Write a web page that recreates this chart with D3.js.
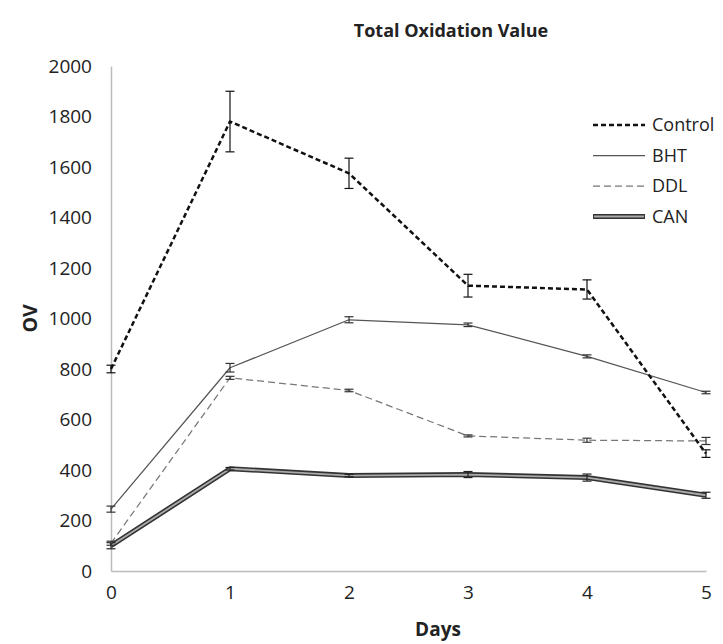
<!DOCTYPE html>
<html>
<head>
<meta charset="utf-8">
<script src="https://cdn.jsdelivr.net/npm/d3@7"></script>
<style>
  body { margin: 0; background: #fff; }
  text { font-family: "Open Sans", sans-serif; fill: #222; }
</style>
</head>
<body>
<div id="chart-area"></div>
<script>
// data
var days = [0, 1, 2, 3, 4, 5]
var yTicks = [0, 200, 400, 600, 800, 1000, 1200, 1400, 1600, 1800, 2000]

var controlVals = [800, 1780, 1575, 1130, 1115, 465]
var controlErr  = [15, 120, 60, 45, 38, 15]
var bhtVals = [245, 805, 995, 975, 850, 707]
var bhtErr  = [12, 17, 12, 7, 6, 5]
var ddlVals = [110, 765, 715, 535, 518, 515]
var ddlErr  = [8, 6, 5, 4, 8, 14]
var canVals = [100, 405, 378, 382, 370, 300]
var canErr  = [12, 5, 5, 12, 14, 12]

var margin = { left: 111, right: 17, top: 66, bottom: 73 }
var width = 723 - margin.left - margin.right,
    height = 644 - margin.top - margin.bottom

var svg = d3.select("#chart-area").append("svg")
    .attr("width", 723)
    .attr("height", 644)

var g = svg.append("g")
    .attr("transform", "translate(" + margin.left + "," + margin.top + ")")

var x = d3.scaleLinear().domain([0, 5]).range([0, width])
var y = d3.scaleLinear().domain([0, 2000]).range([height, 0])

// axes
var xAxisCall = d3.axisBottom(x).tickValues(days).tickFormat(d3.format("d"))
  .tickSize(0).tickPadding(11)
var yAxisCall = d3.axisLeft(y).tickValues(yTicks).tickFormat(d3.format("d"))
  .tickSize(0).tickPadding(19)

var xAxisGroup = g.append("g")
  .attr("transform", "translate(0," + height + ")")
  .call(xAxisCall)
var yAxisGroup = g.append("g").call(yAxisCall)

g.selectAll(".domain").attr("stroke", "#bbb").attr("stroke-width", 1.5)
g.selectAll(".tick text")
  .attr("font-size", "19px")
  .attr("font-family", "Open Sans, sans-serif")
  .attr("fill", "#222")
xAxisGroup.selectAll(".tick text").attr("dy", "0.9em")

// labels
svg.append("text")
  .attr("x", 451).attr("y", 37)
  .attr("text-anchor", "middle")
  .attr("font-size", "18px")
  .attr("font-weight", "bold")
  .text("Total Oxidation Value")

svg.append("text")
  .attr("x", 438).attr("y", 636)
  .attr("text-anchor", "middle")
  .attr("font-size", "19px")
  .attr("font-weight", "bold")
  .text("Days")

svg.append("text")
  .attr("transform", "translate(37," + (margin.top + height / 2) + ") rotate(-90)")
  .attr("text-anchor", "middle")
  .attr("font-size", "19.5px")
  .attr("font-weight", "bold")
  .text("OV")

var series = [
  { name: "Control", vals: controlVals, err: controlErr, color: "#111", width: 2.5, dash: "5,3", errColor: "#111" },
  { name: "BHT", vals: bhtVals, err: bhtErr, color: "#555", width: 1.25, dash: null, errColor: "#333" },
  { name: "DDL", vals: ddlVals, err: ddlErr, color: "#777", width: 1.25, dash: "7,4", errColor: "#333" },
  { name: "CAN", vals: canVals, err: canErr, color: "#333", width: 5, dash: null, errColor: "#222", inner: "#aaa" }
]

var line = d3.line()
  .x(function(d, i) { return x(days[i]) })
  .y(function(d) { return y(d) })

// draw series (CAN first so others sit on top like the picture)
series.slice().reverse().forEach(function(s) {
  g.append("path")
    .datum(s.vals)
    .attr("fill", "none")
    .attr("stroke", s.color)
    .attr("stroke-width", s.width)
    .attr("stroke-dasharray", s.dash)
    .attr("stroke-linejoin", "round")
    .attr("d", line)
  if (s.inner) {
    g.append("path")
      .datum(s.vals)
      .attr("fill", "none")
      .attr("stroke", s.inner)
      .attr("stroke-width", 1.8)
      .attr("stroke-linejoin", "round")
      .attr("d", line)
  }

  var eb = g.append("g").attr("stroke", s.errColor).attr("stroke-width", 1.2)
  s.vals.forEach(function(v, i) {
    var cx = x(days[i])
    var top = y(v + s.err[i]), bot = y(v - s.err[i])
    eb.append("line").attr("x1", cx).attr("x2", cx).attr("y1", top).attr("y2", bot)
    eb.append("line").attr("x1", cx - 4.5).attr("x2", cx + 4.5).attr("y1", top).attr("y2", top)
    eb.append("line").attr("x1", cx - 4.5).attr("x2", cx + 4.5).attr("y1", bot).attr("y2", bot)
  })
})

// legend
var legend = svg.append("g")
series.forEach(function(s, i) {
  var ly = 125 + i * 30.5
  legend.append("line")
    .attr("x1", 593).attr("x2", 645).attr("y1", ly).attr("y2", ly)
    .attr("stroke", s.color)
    .attr("stroke-width", s.width)
    .attr("stroke-dasharray", s.dash)
  if (s.inner) {
    legend.append("line")
      .attr("x1", 594).attr("x2", 644).attr("y1", ly).attr("y2", ly)
      .attr("stroke", s.inner)
      .attr("stroke-width", 1.8)
  }
  legend.append("text")
    .attr("x", 652).attr("y", ly)
    .attr("dy", "0.35em")
    .attr("font-size", "18px")
    .text(s.name)
})
</script>
</body>
</html>
